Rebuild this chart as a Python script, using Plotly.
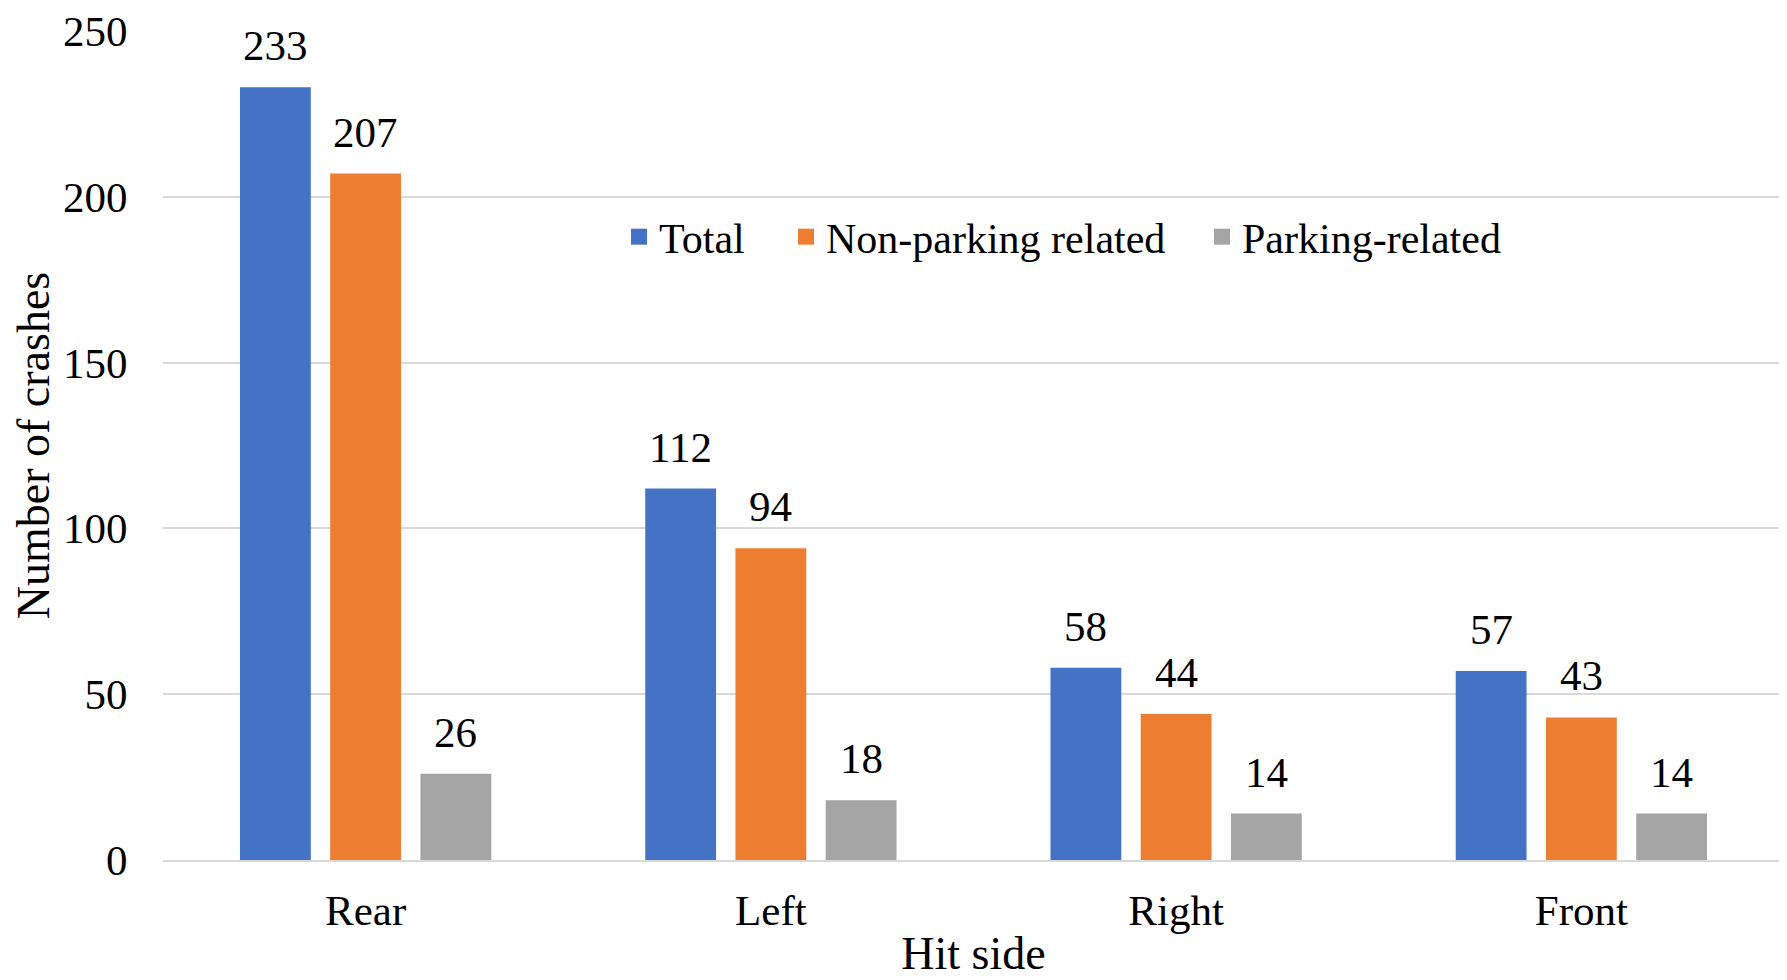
import plotly.graph_objects as go

categories = ["Rear", "Left", "Right", "Front"]
total = [233, 112, 58, 57]
non_parking = [207, 94, 44, 43]
parking = [26, 18, 14, 14]
series_names = ["Total", "Non-parking related", "Parking-related"]
colors = ["#4472C4", "#ED7D31", "#A5A5A5"]
y_ticks = [0, 50, 100, 150, 200, 250]

FONT = "Liberation Serif, Times New Roman, serif"
OFF = 8  # default body margin of the html page
W, H = 1787 - OFF, 980 - OFF
ML = 163 - OFF
MT = 31 - OFF
MR = 1787 - 1784
MB = 980 - 860.5

fig = go.Figure()
series = [total, non_parking, parking]
legend_ids = ["legend", "legend2", "legend3"]
for i, (name, vals, col) in enumerate(zip(series_names, series, colors)):
    fig.add_trace(go.Bar(
        x=categories, y=vals, name=name, marker_color=col,
        marker_line_width=0, showlegend=False, hoverinfo="x+y+name",
    ))
# legend entries with larger square swatches
for i, (name, col) in enumerate(zip(series_names, colors)):
    fig.add_trace(go.Scatter(
        x=[None], y=[None], mode="markers", name=name,
        marker=dict(symbol="square", size=18, color=col),
        legend=legend_ids[i], showlegend=True,
    ))

# data labels
plot_w = W - ML - MR
plot_h = H - MT - MB
cat_w = plot_w / len(categories)
bargap = 0.332
slot = cat_w * (1 - bargap) / 3
for i, vals in enumerate(series):
    for c, v in zip(categories, vals):
        fig.add_annotation(
            x=c, y=v, text=str(v), showarrow=False,
            xshift=(i - 1) * slot, yshift=16, yanchor="bottom",
            font=dict(family=FONT, size=43, color="#000000"),
        )

# legend positions (page pixels)
legend_x_page = [619, 786, 1202]
legend_y_page = 237
legend_y = (H - MB - (legend_y_page - OFF)) / plot_h
leg_common = dict(orientation="h", yref="paper", xref="paper",
                  yanchor="middle", xanchor="left", y=legend_y,
                  font=dict(family=FONT, size=42, color="#000000"),
                  bgcolor="rgba(0,0,0,0)", borderwidth=0)
fig.update_layout(
    legend=dict(x=(legend_x_page[0] - OFF - ML) / plot_w, **leg_common),
    legend2=dict(x=(legend_x_page[1] - OFF - ML) / plot_w, **leg_common),
    legend3=dict(x=(legend_x_page[2] - OFF - ML) / plot_w, **leg_common),
)

fig.update_layout(
    width=W, height=H,
    margin=dict(l=ML, r=MR, t=MT, b=MB, pad=0, autoexpand=False),
    paper_bgcolor="white", plot_bgcolor="white",
    barmode="group", bargap=bargap, bargroupgap=0.215,
    showlegend=True,
    font=dict(family=FONT, size=43, color="#000000"),
    xaxis=dict(
        automargin=False,
        showgrid=False, showline=True, linecolor="#D9D9D9", linewidth=2,
        ticks="outside", ticklen=11, tickcolor="rgba(0,0,0,0)",
        tickfont=dict(family=FONT, size=43, color="#000000"),
        title=dict(text="Hit side", font=dict(family=FONT, size=46, color="#000000"), standoff=4),
    ),
    yaxis=dict(
        automargin=False,
        range=[0, 250], tickvals=y_ticks,
        showgrid=True, gridcolor="#D9D9D9", gridwidth=2,
        zeroline=False, showline=False,
        ticks="outside", ticklen=26, tickcolor="rgba(0,0,0,0)",
        tickfont=dict(family=FONT, size=43, color="#000000"),
        title=dict(text="Number of crashes", font=dict(family=FONT, size=46, color="#000000"), standoff=13),
    ),
)

fig.write_html("out.html")
